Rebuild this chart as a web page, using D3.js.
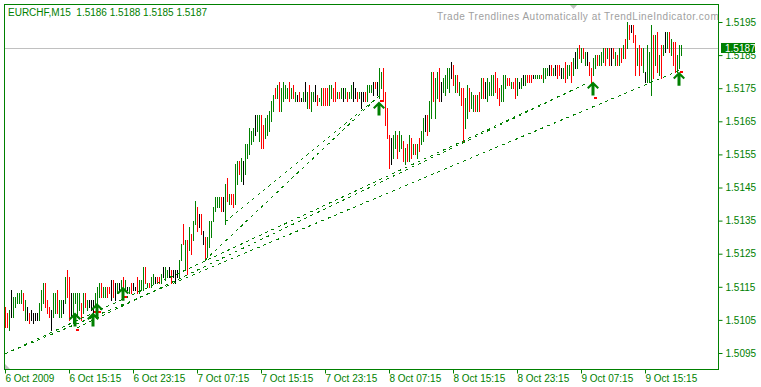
<!DOCTYPE html>
<html>
<head>
<meta charset="utf-8">
<script src="https://cdn.jsdelivr.net/npm/d3@7"></script>
<style>
  html, body { margin: 0; padding: 0; background: #fff; }
  svg { display: block; }
  text { font-family: "Liberation Sans", sans-serif; font-size: 10px; }
</style>
</head>
<body>
<svg id="chart" width="761" height="387"></svg>
<script>
// bar highs and lows as the last four digits of the quote (5109 = 1.5109), one row = 10 bars of 15 minutes
const highs = [
  5109,5107,5108,5114,5112,5112,5113,5113,5114,5113,
  5111,5109,5107,5108,5107,5107,5107,5110,5114,5116,
  5116,5111,5109,5108,5113,5113,5114,5111,5111,5111,
  5118,5120,5118,5113,5113,5113,5113,5113,5110,5113,
  5113,5111,5111,5111,5111,5113,5115,5116,5116,5115,
  5115,5115,5115,5117,5117,5116,5116,5116,5117,5118,
  5117,5115,5115,5116,5116,5115,5118,5117,5117,5121,
  5121,5116,5116,5118,5119,5118,5118,5118,5119,5121,
  5121,5120,5121,5120,5120,5120,5120,5123,5128,5134,
  5129,5129,5133,5131,5135,5141,5139,5137,5137,5132,
  5130,5130,5135,5135,5139,5142,5142,5142,5142,5142,
  5146,5148,5143,5143,5143,5152,5153,5153,5154,5153,
  5158,5158,5163,5162,5163,5167,5167,5167,5167,5164,
  5166,5167,5168,5171,5173,5175,5176,5177,5175,5177,
  5176,5175,5177,5175,5176,5174,5173,5174,5172,5174,
  5177,5174,5176,5174,5174,5176,5173,5172,5175,5175,
  5175,5175,5176,5176,5175,5177,5174,5174,5175,5175,
  5175,5174,5174,5176,5177,5175,5174,5174,5174,5174,
  5174,5176,5176,5176,5177,5177,5177,5181,5180,5181,
  5174,5169,5161,5160,5161,5162,5161,5162,5161,5159,
  5157,5158,5161,5160,5158,5158,5158,5160,5162,5166,
  5167,5167,5171,5180,5180,5178,5180,5181,5177,5178,
  5179,5181,5181,5183,5182,5179,5179,5177,5175,5175,
  5172,5176,5175,5174,5173,5173,5173,5174,5178,5178,
  5177,5178,5177,5179,5179,5180,5178,5175,5176,5179,
  5179,5178,5178,5177,5177,5178,5178,5177,5178,5179,
  5179,5179,5179,5179,5179,5179,5179,5179,5179,5181,
  5181,5181,5182,5182,5181,5182,5182,5182,5181,5181,
  5183,5182,5182,5183,5184,5186,5187,5188,5187,5187,
  5186,5186,5183,5181,5184,5185,5185,5185,5186,5187,
  5187,5187,5187,5187,5187,5186,5185,5187,5187,5188,
  5190,5195,5194,5194,5194,5191,5187,5188,5187,5187,
  5180,5188,5186,5194,5191,5191,5192,5185,5188,5188,
  5192,5192,5192,5190,5189,5189,5185,5188,5188
];
const lows = [
  5103,5103,5102,5106,5106,5109,5110,5110,5110,5108,
  5105,5105,5104,5105,5104,5105,5105,5105,5108,5110,
  5109,5107,5106,5102,5106,5107,5107,5106,5106,5107,
  5110,5112,5105,5106,5104,5110,5106,5108,5105,5107,
  5109,5108,5109,5108,5106,5109,5110,5112,5112,5112,
  5112,5112,5113,5111,5112,5111,5113,5114,5114,5115,
  5114,5114,5113,5113,5114,5114,5113,5113,5114,5114,
  5116,5115,5115,5115,5116,5116,5116,5116,5116,5118,
  5117,5118,5118,5116,5118,5116,5118,5118,5123,5128,
  5120,5119,5126,5125,5129,5134,5132,5133,5131,5128,
  5123,5124,5127,5130,5135,5138,5139,5139,5138,5138,
  5134,5141,5140,5140,5139,5140,5146,5149,5147,5146,
  5149,5154,5155,5158,5159,5161,5162,5159,5157,5157,
  5160,5161,5162,5165,5168,5172,5172,5168,5168,5171,
  5172,5172,5171,5172,5172,5171,5171,5171,5171,5171,
  5171,5169,5169,5168,5171,5171,5170,5171,5170,5170,
  5170,5170,5170,5172,5171,5171,5172,5172,5172,5171,
  5172,5171,5172,5172,5171,5172,5171,5172,5169,5171,
  5171,5171,5174,5174,5173,5175,5173,5172,5175,5171,
  5164,5160,5151,5152,5154,5157,5154,5156,5157,5153,
  5152,5153,5153,5154,5155,5155,5154,5156,5158,5159,
  5162,5161,5162,5166,5171,5166,5172,5171,5171,5174,
  5173,5175,5174,5178,5176,5174,5174,5173,5170,5159,
  5163,5166,5168,5169,5168,5168,5168,5168,5172,5172,
  5172,5171,5173,5173,5173,5174,5172,5170,5171,5171,
  5175,5176,5176,5175,5175,5172,5173,5175,5175,5176,
  5176,5177,5177,5177,5178,5178,5178,5178,5178,5177,
  5178,5179,5179,5179,5179,5179,5178,5179,5178,5178,
  5177,5178,5179,5177,5179,5181,5181,5184,5183,5184,
  5182,5182,5179,5176,5179,5181,5182,5182,5182,5183,
  5182,5184,5182,5182,5184,5182,5182,5182,5183,5184,
  5184,5187,5190,5192,5189,5179,5182,5179,5182,5180,
  5177,5177,5177,5173,5178,5182,5180,5179,5178,5185,
  5186,5187,5186,5185,5182,5180,5180,5181,5185
];
// u = closed up, d = closed down, f = flat
const moves = [
  "ddufuuuuud","ufdffffuuu","dddfuuduuf","uddfuuuudu","dufffuuudu",
  "uddfdfufud","ufudffduuu","duduufdduf","uufdfffuud","ududuudfdf",
  "duuuuuuudf","ududduuduf","uuuuufuudd","uuuuududuu","uududufdfu",
  "fuduufduud","dduuddudUf","uduuffduff","duuufdfuud","dddfuuduud",
  "ududududuu","fduuduudfu","uuufdududd","uuduududud","fuuuuddduu",
  "udduddufuf","udddfuuudu","uufdufddfu","duudufudud","ufdduuduuu",
  "dudfdududu","dudfdduddu","fuuudududu","fududduuu"
].join("").toLowerCase().split("");

const yTicks = [5095, 5105, 5115, 5125, 5135, 5145, 5155, 5165, 5175, 5185, 5195];
const timeBars = [0, 32, 64, 96, 128, 160, 192, 224, 256, 288, 320];
const timeLabels = ["6 Oct 2009", "6 Oct 15:15", "6 Oct 23:15", "7 Oct 07:15", "7 Oct 15:15", "7 Oct 23:15",
  "8 Oct 07:15", "8 Oct 15:15", "8 Oct 23:15", "9 Oct 07:15", "9 Oct 15:15"];

// trendlines: bar number and quote at both ends
const trendBarsA = [0, 0, 36, 100, 110];
const trendPipsA = [5094.7, 5094.7, 5102.6, 5123, 5134.6];
const trendBarsB = [337, 290, 290, 187, 187];
const trendPipsB = [5180.3, 5176.2, 5176.2, 5172.6, 5172.6];

const arrowBars = [35, 44, 46, 59, 187, 294, 337];
const arrowPips = [5107.2, 5107.2, 5110.1, 5115, 5171, 5177, 5180];
const dotBars = [36, 45, 47, 60, 188, 295, 338];
const dotPips = [5102.3, 5107.7, 5107.7, 5112.3, 5171.5, 5172.4, 5180.2];

const lastPrice = 5187;

const green = "#008000";
const price = p => 1 + p / 10000;

const svg = d3.select("#chart");
const x = d3.scaleLinear().domain([0, 338]).range([5, 681]);
const y = d3.scaleLinear().domain([price(5095), price(5195)]).range([353, 22]);
const color = d3.scaleOrdinal().domain(["u", "d", "f"]).range([green, "#ff0000", "#000000"]);

svg.append("rect").attr("width", 761).attr("height", 387).attr("fill", "#fff");

// watermark and the current price line go under the bars
svg.append("text")
  .attr("x", 437).attr("y", 20)
  .attr("fill", "#a0a0a0")
  .style("letter-spacing", "0.5px")
  .text("Trade Trendlines Automatically at TrendLineIndicator.com");

svg.append("line")
  .attr("x1", 5).attr("x2", 718)
  .attr("y1", Math.round(y(price(lastPrice))) + 0.5).attr("y2", Math.round(y(price(lastPrice))) + 0.5)
  .attr("stroke", "#c0c0c0");

svg.append("g")
  .selectAll("rect")
  .data(highs)
  .enter()
  .append("rect")
  .attr("x", (d, i) => x(i))
  .attr("y", d => Math.round(y(price(d))))
  .attr("width", 1)
  .attr("height", (d, i) => Math.round(y(price(lows[i]))) - Math.round(y(price(d))) + 1)
  .attr("fill", (d, i) => color(moves[i]));

svg.append("g")
  .selectAll("line")
  .data(trendBarsA)
  .enter()
  .append("line")
  .attr("x1", d => x(d))
  .attr("y1", (d, i) => y(price(trendPipsA[i])))
  .attr("x2", (d, i) => x(trendBarsB[i]))
  .attr("y2", (d, i) => y(price(trendPipsB[i])))
  .attr("stroke", green)
  .attr("stroke-width", 1)
  .attr("stroke-dasharray", "3,4")
  .attr("shape-rendering", "crispEdges");

svg.append("g")
  .selectAll("rect")
  .data(dotBars)
  .enter()
  .append("rect")
  .attr("x", d => x(d) - 1)
  .attr("y", (d, i) => Math.round(y(price(dotPips[i]))))
  .attr("width", 3)
  .attr("height", 2)
  .attr("fill", "#ff0000");

svg.append("g")
  .selectAll("path")
  .data(arrowBars)
  .enter()
  .append("path")
  .attr("transform", (d, i) => `translate(${x(d)},${y(price(arrowPips[i]))})`)
  .attr("d", "M0,0L6,6L4.5,7.5L1.5,4.5V14H-1.5V4.5L-4.5,7.5L-6,6Z")
  .attr("fill", green);

// little grey chart shift and corner marks
svg.append("path").attr("d", "M569,4H578L573.5,9Z").attr("fill", "#c0c0c0");
svg.append("path").attr("d", "M5,364L10,369H5Z").attr("fill", "#c0c0c0");

// frame
svg.append("rect")
  .attr("x", 4.5).attr("y", 4.5)
  .attr("width", 714).attr("height", 365)
  .attr("fill", "none").attr("stroke", green);

const yAxis = d3.axisRight(y)
  .tickValues(yTicks.map(price))
  .tickFormat(d3.format(".4f"))
  .tickSize(4)
  .tickPadding(3);

const yG = svg.append("g").attr("transform", "translate(718.5,0)").call(yAxis);
yG.select(".domain").remove();
yG.selectAll("line").attr("stroke", green);
yG.selectAll("text").attr("fill", green).style("font-size", "10px");

const xAxis = d3.axisBottom(x)
  .tickValues(timeBars)
  .tickFormat((d, i) => timeLabels[i])
  .tickSize(4)
  .tickPadding(1);

const xG = svg.append("g").attr("transform", "translate(0,369.5)").call(xAxis);
xG.select(".domain").remove();
xG.selectAll("line").attr("stroke", green);
xG.selectAll("text").attr("fill", green).attr("text-anchor", "start").style("font-size", "10px");

// current price box sits over the axis
svg.append("rect")
  .attr("x", 721).attr("y", y(price(lastPrice)) - 5.5)
  .attr("width", 34).attr("height", 10)
  .attr("fill", green);
svg.append("text")
  .attr("x", 725).attr("y", y(price(lastPrice)) + 3.5)
  .attr("fill", "#fff")
  .text(d3.format(".4f")(price(lastPrice)));

svg.append("text")
  .attr("x", 8).attr("y", 16)
  .attr("fill", green)
  .style("white-space", "pre")
  .text("EURCHF,M15  1.5186 1.5188 1.5185 1.5187");
</script>
</body>
</html>
